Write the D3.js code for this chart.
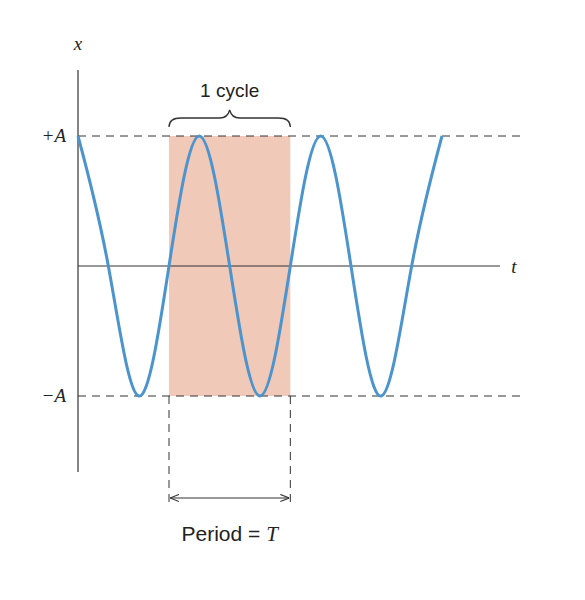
<!DOCTYPE html>
<html>
<head>
<meta charset="utf-8">
<script src="https://cdn.jsdelivr.net/npm/d3@7"></script>
<style>
  body { margin: 0; background: #fff; }
  svg text { fill: #222; }
</style>
</head>
<body>
<svg id="chart" width="585" height="600"></svg>
<script>
// time in periods, displacement in units of A (peaks, zero crossings, troughs)
const times = [0, 0.25, 0.5, 0.75, 1, 1.25, 1.5, 1.75, 2, 2.25, 2.5, 2.75, 3];
const values = [1, 0, -1, 0, 1, 0, -1, 0, 1, 0, -1, 0, 1];
const cycleStart = 0.75;
const cycleEnd = 1.75;
const levelLabels = ["+A", "\u2212A"];

const svg = d3.select("#chart");

const x = d3.scaleLinear().domain([0, 3]).range([78, 442]);
const y = d3.scaleLinear().domain([-1, 1]).range([396, 136]);

// shaded cycle
svg.append("rect")
  .attr("x", x(cycleStart))
  .attr("y", y(1))
  .attr("width", x(cycleEnd) - x(cycleStart))
  .attr("height", y(-1) - y(1))
  .attr("fill", "#f0c9b9");

// dashed level lines
[1, -1].forEach((v, i) => {
  svg.append("line")
    .attr("x1", x(0)).attr("x2", 520)
    .attr("y1", y(v)).attr("y2", y(v))
    .attr("stroke", "#333").attr("stroke-width", 1)
    .attr("stroke-dasharray", "8,6");
  svg.append("text")
    .attr("x", 66).attr("y", y(v) + 6)
    .attr("text-anchor", "end")
    .style("font-family", "Liberation Serif, serif")
    .style("font-style", "italic")
    .style("font-size", "19px")
    .text(levelLabels[i]);
});

// vertical dashed lines below the cycle
[cycleStart, cycleEnd].forEach((t) => {
  svg.append("line")
    .attr("x1", x(t)).attr("x2", x(t))
    .attr("y1", y(-1)).attr("y2", 505)
    .attr("stroke", "#333").attr("stroke-width", 1)
    .attr("stroke-dasharray", "8,6");
});

// axes
svg.append("line")
  .attr("x1", x(0)).attr("x2", x(0))
  .attr("y1", 70).attr("y2", 472)
  .attr("stroke", "#333").attr("stroke-width", 1.2);
svg.append("line")
  .attr("x1", x(0)).attr("x2", 500)
  .attr("y1", y(0)).attr("y2", y(0))
  .attr("stroke", "#333").attr("stroke-width", 1.2);

svg.append("text")
  .attr("x", x(0)).attr("y", 50)
  .attr("text-anchor", "middle")
  .style("font-family", "Liberation Serif, serif")
  .style("font-style", "italic")
  .style("font-size", "19px")
  .text("x");
svg.append("text")
  .attr("x", 514).attr("y", y(0) + 7)
  .attr("text-anchor", "middle")
  .style("font-family", "Liberation Serif, serif")
  .style("font-style", "italic")
  .style("font-size", "19px")
  .text("t");

// wave
const pts = times.map((t, i) => [t, values[i]]);
svg.append("path")
  .datum(pts)
  .attr("fill", "none")
  .attr("stroke", "#4b94cd")
  .attr("stroke-width", 3)
  .attr("d", d3.line().x(d => x(d[0])).y(d => y(d[1])).curve(d3.curveNatural));

// brace over one cycle
const bx0 = x(cycleStart), bx1 = x(cycleEnd), bm = (bx0 + bx1) / 2;
const by = 127;
svg.append("path")
  .attr("fill", "none")
  .attr("stroke", "#333")
  .attr("stroke-width", 1.3)
  .attr("d", `M${bx0},${by} Q${bx0},${by - 9} ${bx0 + 12},${by - 9} L${bm - 10},${by - 9}
    Q${bm - 2},${by - 9} ${bm},${by - 17} Q${bm + 2},${by - 9} ${bm + 10},${by - 9}
    L${bx1 - 12},${by - 9} Q${bx1},${by - 9} ${bx1},${by}`);
svg.append("text")
  .attr("x", bm).attr("y", 97)
  .attr("text-anchor", "middle")
  .style("font-family", "Liberation Sans, Arial, sans-serif")
  .style("font-size", "19px")
  .text("1 cycle");

// period arrow
const ay = 498;
svg.append("defs").selectAll("marker")
  .data(["s", "e"]).enter().append("marker")
  .attr("id", d => "arr" + d)
  .attr("viewBox", "0 0 10 10")
  .attr("refX", 10).attr("refY", 5)
  .attr("markerWidth", 9).attr("markerHeight", 9)
  .attr("orient", "auto-start-reverse")
  .attr("markerUnits", "userSpaceOnUse")
  .append("path").attr("d", "M0,1 L10,5 L0,9").attr("fill", "none").attr("stroke", "#333").attr("stroke-width", 1.2);
svg.append("line")
  .attr("x1", bx0 + 1).attr("x2", bx1 - 1)
  .attr("y1", ay).attr("y2", ay)
  .attr("stroke", "#333").attr("stroke-width", 1.2)
  .attr("marker-start", "url(#arrs)")
  .attr("marker-end", "url(#arre)");

const pt = svg.append("text")
  .attr("x", bm).attr("y", 541)
  .attr("text-anchor", "middle")
  .style("font-family", "Liberation Sans, Arial, sans-serif")
  .style("font-size", "21px");
pt.append("tspan").text("Period = ");
pt.append("tspan")
  .style("font-family", "Liberation Serif, serif")
  .style("font-style", "italic")
  .text("T");
</script>
</body>
</html>
